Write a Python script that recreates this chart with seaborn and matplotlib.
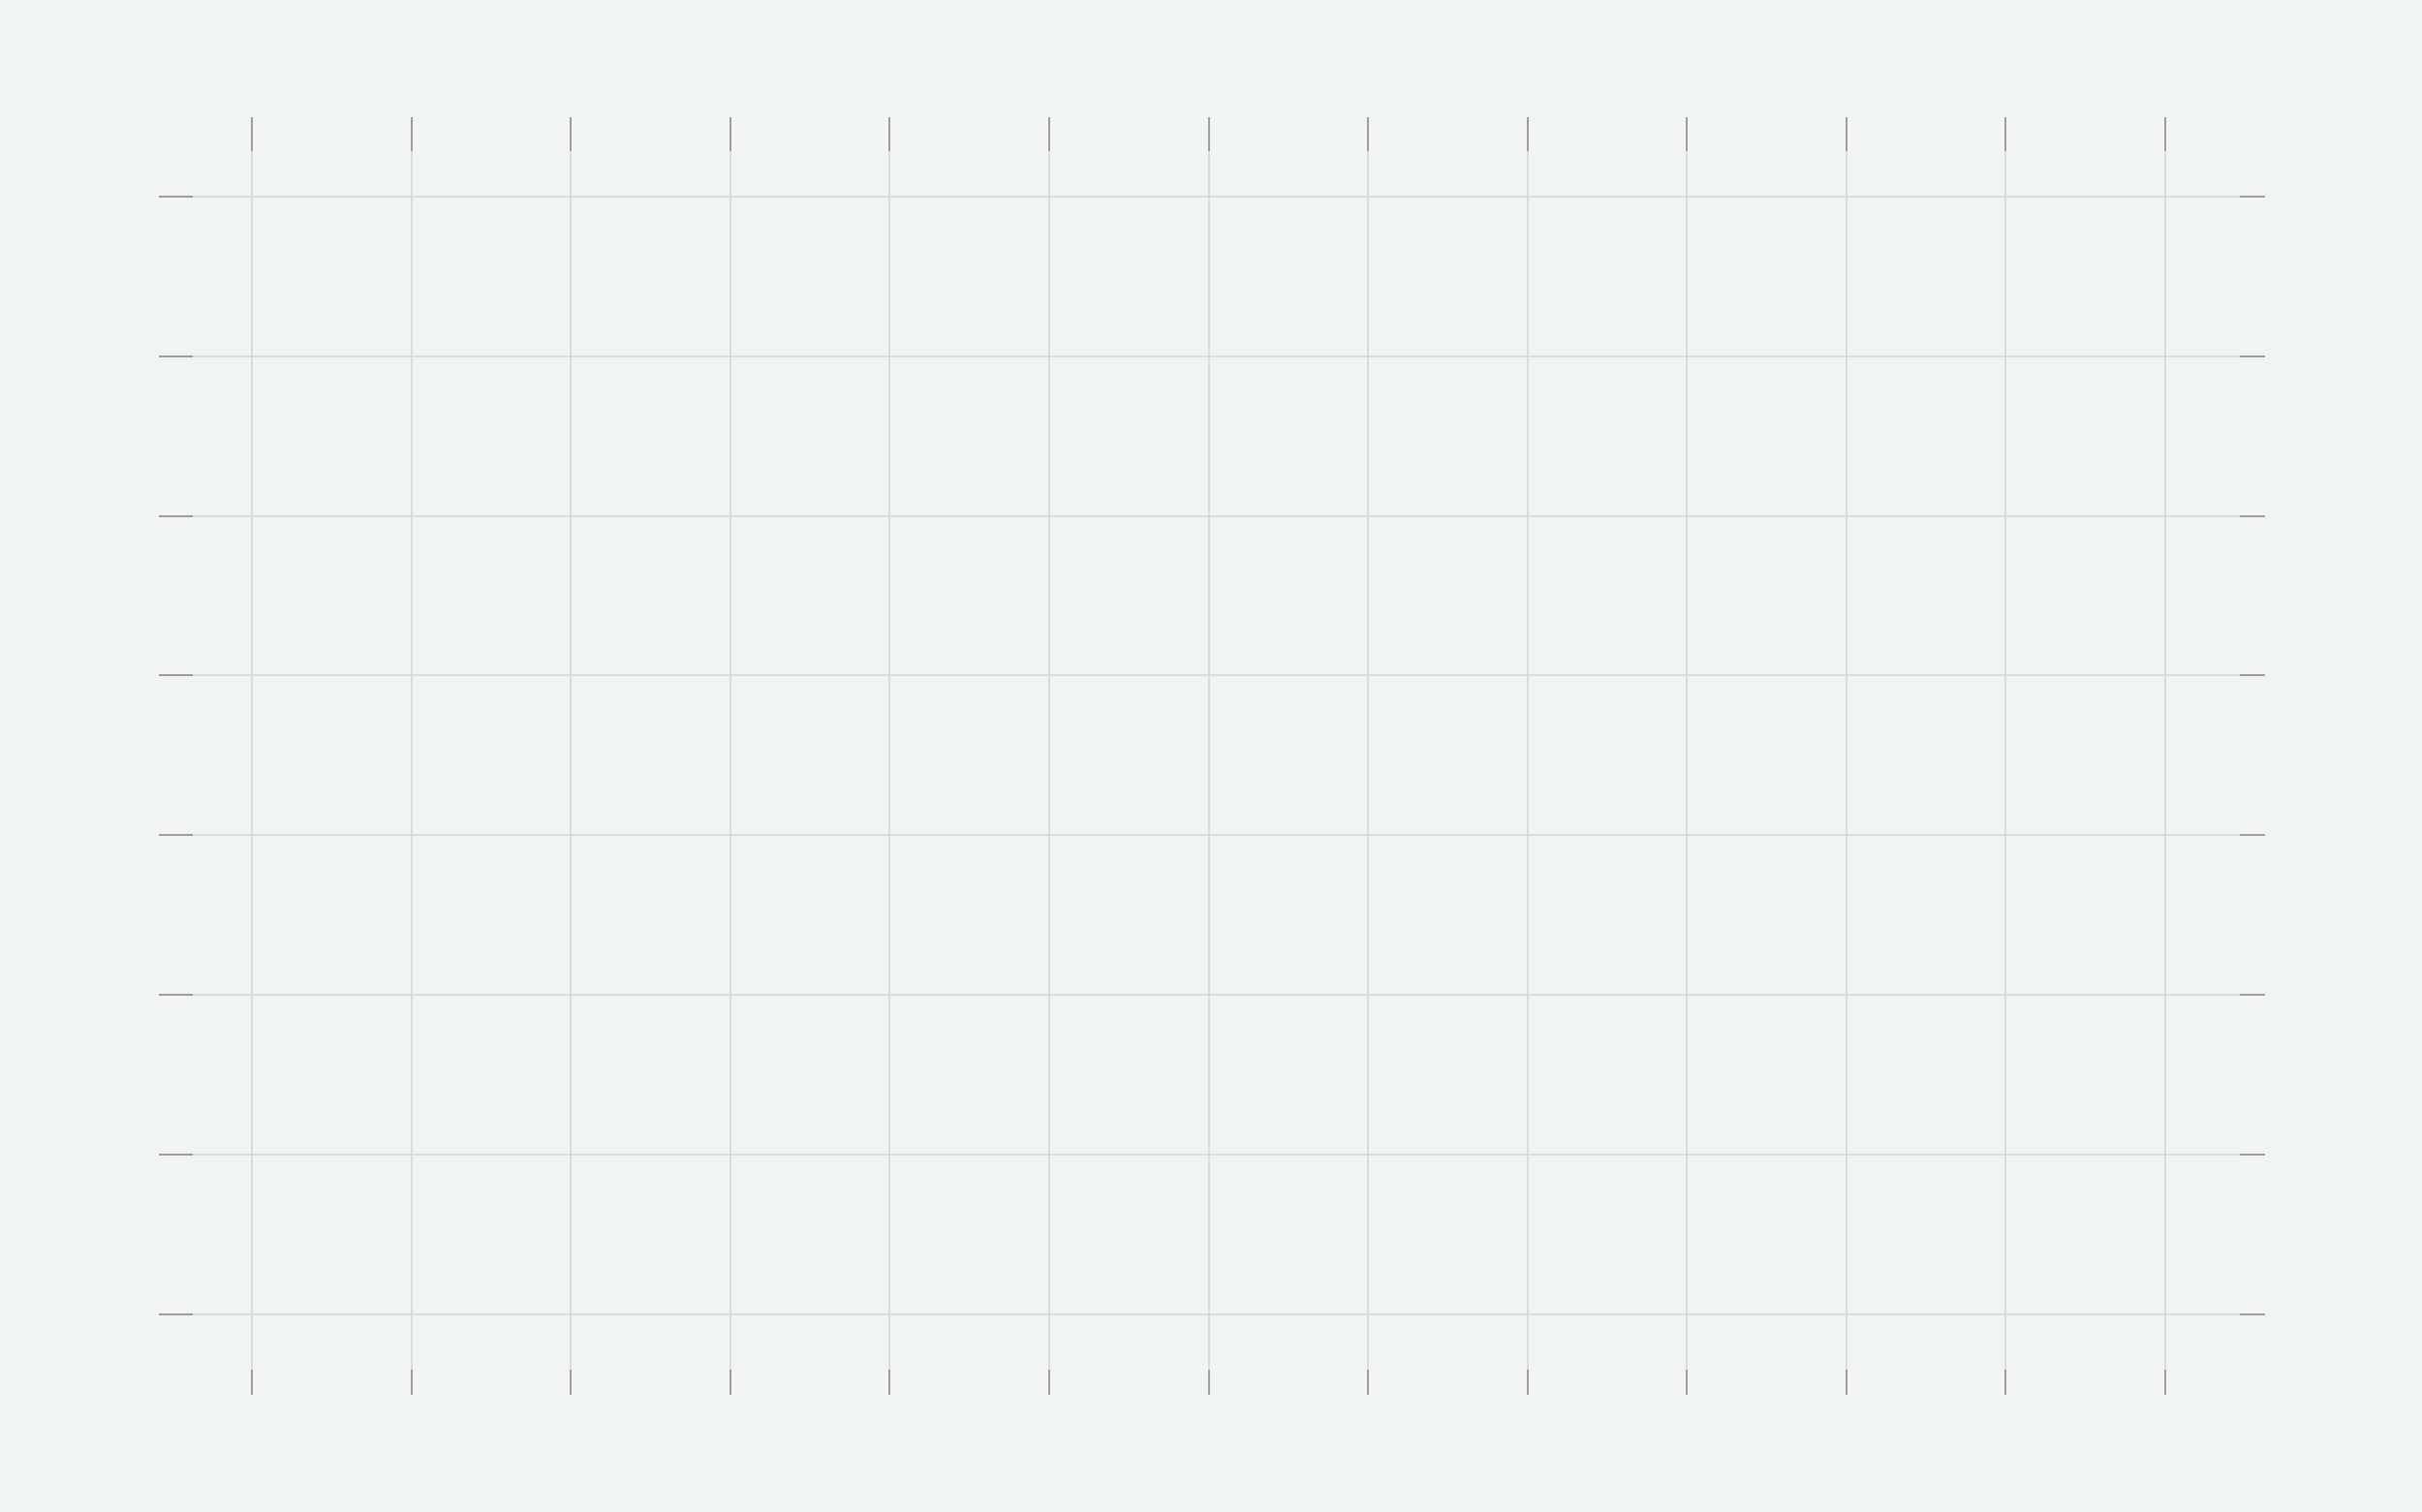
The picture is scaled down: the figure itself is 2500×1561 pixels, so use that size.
import matplotlib
matplotlib.use("Agg")
import matplotlib.pyplot as plt
import seaborn as sns
import pandas as pd

# grid positions (the chart carries no marks, only the grid)
x_ticks = [0, 1, 2, 3, 4, 5, 6, 7, 8, 9, 10, 11, 12]
y_ticks = [0, 1, 2, 3, 4, 5, 6, 7]
x_vals = []
y_vals = []

BG = "#f0f4f3"
GRID = "#d3d7d7"
TICK = "#9b9b9b"

sns.set_theme(style="whitegrid", rc={
    "figure.facecolor": BG,
    "axes.facecolor": BG,
    "grid.color": GRID,
    "grid.linewidth": 0.55,
    "axes.edgecolor": BG,
})

fig = plt.figure(figsize=(12.5, 7.805), dpi=200)
ax = fig.add_axes([0.0796, 0.0942, 0.9248 - 0.0796, 0.9001 - 0.0942])

df = pd.DataFrame({"x": pd.Series(x_vals, dtype=float), "y": pd.Series(y_vals, dtype=float)})
sns.scatterplot(data=df, x="x", y="y", ax=ax)

ax.set_xlim(-0.371, 12.468)
ax.set_ylim(-0.346, 7.285)
ax.set_xticks(x_ticks)
ax.set_yticks(y_ticks)
ax.set_xticklabels([])
ax.set_yticklabels([])
ax.set_xlabel("")
ax.set_ylabel("")
for s in ax.spines.values():
    s.set_visible(False)

ax.tick_params(axis="both", which="major", direction="out", color=TICK, width=0.7,
               bottom=True, top=True, left=True, right=True, length=12.6)
long_len, short_len = 12.6, 9.4
for t in ax.xaxis.get_major_ticks():
    t.tick1line.set_markersize(short_len)
    t.tick2line.set_markersize(long_len)
for t in ax.yaxis.get_major_ticks():
    t.tick1line.set_markersize(long_len)
    t.tick2line.set_markersize(short_len)

fig.savefig("out.png", dpi=200, facecolor=BG)
